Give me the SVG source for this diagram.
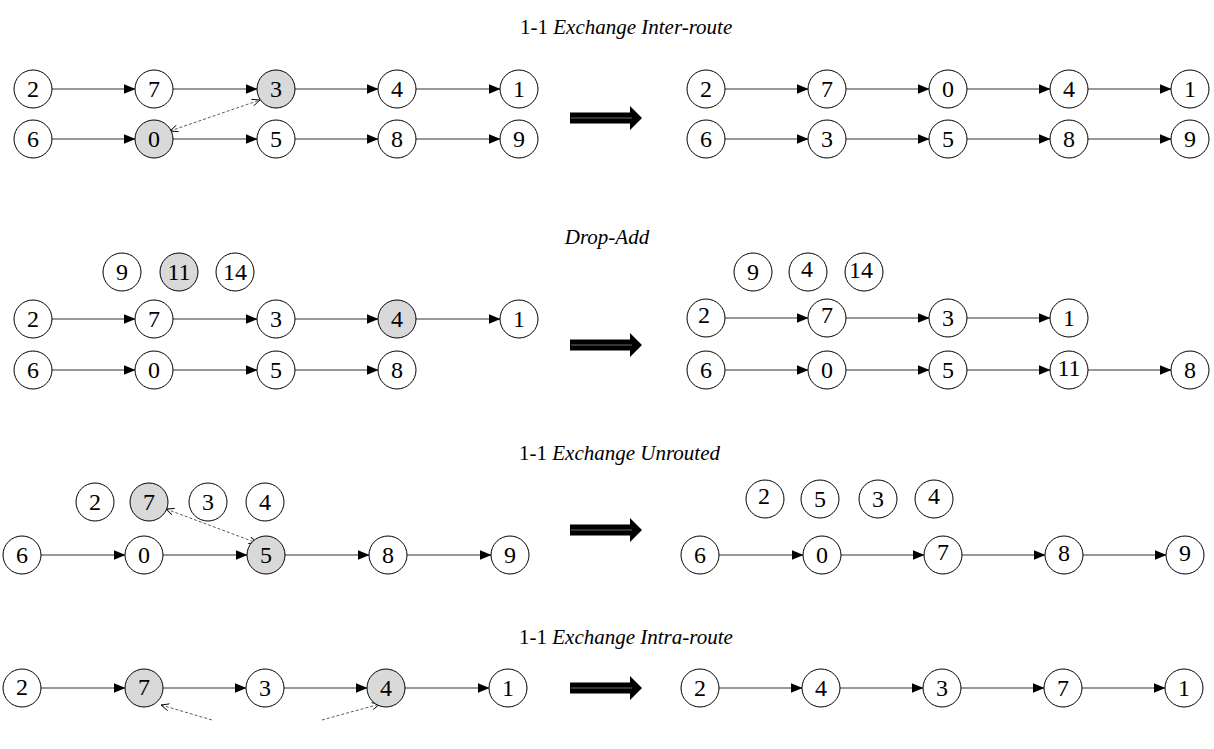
<svg xmlns="http://www.w3.org/2000/svg" xmlns:xlink="http://www.w3.org/1999/xlink" width="1214" height="749" viewBox="0 0 1214 749">
<style>
.n circle{fill:#fff;stroke:#000;stroke-width:1}
.n.g circle{fill:#d9d9d9}
.n text{font-family:"Liberation Serif",serif;font-size:24px;text-anchor:middle;fill:#000}
.title{font-family:"Liberation Serif",serif;font-size:21px;fill:#000}
.c line{stroke:#333;stroke-width:1;marker-end:url(#ah)}
.d{fill:none;stroke:#333;stroke-width:0.8;stroke-dasharray:3,2;marker-start:url(#oa);marker-end:url(#oa)}
</style>
<defs>
<marker id="ah" markerUnits="userSpaceOnUse" markerWidth="13" markerHeight="10" refX="12" refY="5" orient="auto"><path d="M0,0 L12,5 L0,10 Z" fill="#000"/></marker>
<marker id="oa" markerUnits="userSpaceOnUse" markerWidth="10" markerHeight="8" refX="8" refY="4" orient="auto-start-reverse"><path d="M0,0.5 L8,4 L0,7.5" fill="none" stroke="#000" stroke-width="0.9"/></marker>
<g id="big"><path d="M0,-5.5 H60 V-12 L72,0 L60,12 V5.5 H0 Z" fill="#000"/><line x1="1" y1="0" x2="62" y2="0" stroke="#fff" stroke-width="0.7" stroke-opacity="0.6"/></g>
</defs>

<text class="title" x="520" y="34">1-1 <tspan font-style="italic">Exchange Inter-route</tspan></text>
<text class="title" x="607" y="244" font-style="italic" text-anchor="middle">Drop-Add</text>
<text class="title" x="519" y="460">1-1 <tspan font-style="italic">Exchange Unrouted</tspan></text>
<text class="title" x="519" y="644">1-1 <tspan font-style="italic">Exchange Intra-route</tspan></text>

<g id="connectors">
<g class="c">
<line x1="51.5" y1="89" x2="135.5" y2="89"/><line x1="172.5" y1="89" x2="257.5" y2="89"/><line x1="294.5" y1="89" x2="378.5" y2="89"/><line x1="415.5" y1="89" x2="500.5" y2="89"/>
<line x1="51.5" y1="139" x2="135.5" y2="139"/><line x1="172.5" y1="139" x2="257.5" y2="139"/><line x1="294.5" y1="139" x2="378.5" y2="139"/><line x1="415.5" y1="139" x2="500.5" y2="139"/>
<line x1="724.5" y1="89" x2="808.5" y2="89"/><line x1="845.5" y1="89" x2="929.5" y2="89"/><line x1="966.5" y1="89" x2="1050.5" y2="89"/><line x1="1087.5" y1="89" x2="1171.5" y2="89"/>
<line x1="724.5" y1="139" x2="808.5" y2="139"/><line x1="845.5" y1="139" x2="929.5" y2="139"/><line x1="966.5" y1="139" x2="1050.5" y2="139"/><line x1="1087.5" y1="139" x2="1171.5" y2="139"/>

<line x1="51.5" y1="319" x2="135.5" y2="319"/><line x1="172.5" y1="319" x2="257.5" y2="319"/><line x1="294.5" y1="319" x2="378.5" y2="319"/><line x1="415.5" y1="319" x2="500.5" y2="319"/>
<line x1="51.5" y1="370" x2="135.5" y2="370"/><line x1="172.5" y1="370" x2="257.5" y2="370"/><line x1="294.5" y1="370" x2="378.5" y2="370"/>
<line x1="724.5" y1="318" x2="808.5" y2="318"/><line x1="845.5" y1="318" x2="929.5" y2="318"/><line x1="966.5" y1="318" x2="1050.5" y2="318"/>
<line x1="724.5" y1="370" x2="808.5" y2="370"/><line x1="845.5" y1="370" x2="929.5" y2="370"/><line x1="966.5" y1="370" x2="1050.5" y2="370"/><line x1="1087.5" y1="370" x2="1171.5" y2="370"/>

<line x1="40.5" y1="555" x2="125.5" y2="555"/><line x1="162.5" y1="555" x2="247.5" y2="555"/><line x1="284.5" y1="555" x2="369.5" y2="555"/><line x1="406.5" y1="555" x2="491.5" y2="555"/>
<line x1="718.5" y1="555" x2="803.5" y2="555"/><line x1="840.5" y1="555" x2="924.5" y2="555"/><line x1="961.5" y1="555" x2="1045.5" y2="555"/><line x1="1082.5" y1="555" x2="1166.5" y2="555"/>

<line x1="40.5" y1="688" x2="125.5" y2="688"/><line x1="162.5" y1="688" x2="246.5" y2="688"/><line x1="283.5" y1="688" x2="367.5" y2="688"/><line x1="404.5" y1="688" x2="489.5" y2="688"/>
<line x1="718.5" y1="688" x2="802.5" y2="688"/><line x1="839.5" y1="688" x2="923.5" y2="688"/><line x1="960.5" y1="688" x2="1044.5" y2="688"/><line x1="1081.5" y1="688" x2="1165.5" y2="688"/>
</g>
<path class="d" d="M170,131 L260,100"/>
<path class="d" d="M166,509 L257,543"/>
<path class="d" d="M161,705 L212,720 M322,720 L380,704"/>
<use xlink:href="#big" href="#big" x="570" y="118"/>
<use xlink:href="#big" href="#big" x="570" y="345"/>
<use xlink:href="#big" href="#big" x="570" y="530"/>
<use xlink:href="#big" href="#big" x="570" y="688"/>
</g>

<g id="s1L">
<g id="a1-2" class="n"><circle cx="33" cy="89" r="19"/><text x="33" y="97">2</text></g>
<g id="a1-7" class="n"><circle cx="154" cy="89" r="19"/><text x="154" y="97">7</text></g>
<g id="a1-3" class="n g"><circle cx="276" cy="89" r="19"/><text x="276" y="97">3</text></g>
<g id="a1-4" class="n"><circle cx="397" cy="89" r="19"/><text x="397" y="97">4</text></g>
<g id="a1-1" class="n"><circle cx="519" cy="89" r="19"/><text x="519" y="97">1</text></g>
<g id="a1-6" class="n"><circle cx="33" cy="139" r="19"/><text x="33" y="147">6</text></g>
<g id="a1-0" class="n g"><circle cx="154" cy="139" r="19"/><text x="154" y="147">0</text></g>
<g id="a1-5" class="n"><circle cx="276" cy="139" r="19"/><text x="276" y="147">5</text></g>
<g id="a1-8" class="n"><circle cx="397" cy="139" r="19"/><text x="397" y="147">8</text></g>
<g id="a1-9" class="n"><circle cx="519" cy="139" r="19"/><text x="519" y="147">9</text></g>
</g>
<g id="s1R">
<g id="b1-2" class="n"><circle cx="706" cy="89" r="19"/><text x="706" y="97">2</text></g>
<g id="b1-7" class="n"><circle cx="827" cy="89" r="19"/><text x="827" y="97">7</text></g>
<g id="b1-0" class="n"><circle cx="948" cy="89" r="19"/><text x="948" y="97">0</text></g>
<g id="b1-4" class="n"><circle cx="1069" cy="89" r="19"/><text x="1069" y="97">4</text></g>
<g id="b1-1" class="n"><circle cx="1190" cy="89" r="19"/><text x="1190" y="97">1</text></g>
<g id="b1-6" class="n"><circle cx="706" cy="139" r="19"/><text x="706" y="147">6</text></g>
<g id="b1-3" class="n"><circle cx="827" cy="139" r="19"/><text x="827" y="147">3</text></g>
<g id="b1-5" class="n"><circle cx="948" cy="139" r="19"/><text x="948" y="147">5</text></g>
<g id="b1-8" class="n"><circle cx="1069" cy="139" r="19"/><text x="1069" y="147">8</text></g>
<g id="b1-9" class="n"><circle cx="1190" cy="139" r="19"/><text x="1190" y="147">9</text></g>
</g>

<g id="s2L">
<g id="a2-9" class="n"><circle cx="122" cy="272" r="19"/><text x="122" y="280">9</text></g>
<g id="a2-11" class="n g"><circle cx="179" cy="272" r="19"/><text x="179" y="280">11</text></g>
<g id="a2-14" class="n"><circle cx="235" cy="272" r="19"/><text x="235" y="280">14</text></g>
<g id="a2-2" class="n"><circle cx="33" cy="319" r="19"/><text x="33" y="327">2</text></g>
<g id="a2-7" class="n"><circle cx="154" cy="319" r="19"/><text x="154" y="327">7</text></g>
<g id="a2-3" class="n"><circle cx="276" cy="319" r="19"/><text x="276" y="327">3</text></g>
<g id="a2-4" class="n g"><circle cx="397" cy="319" r="19"/><text x="397" y="327">4</text></g>
<g id="a2-1" class="n"><circle cx="519" cy="319" r="19"/><text x="519" y="327">1</text></g>
<g id="a2-6" class="n"><circle cx="33" cy="370" r="19"/><text x="33" y="378">6</text></g>
<g id="a2-0" class="n"><circle cx="154" cy="370" r="19"/><text x="154" y="378">0</text></g>
<g id="a2-5" class="n"><circle cx="276" cy="370" r="19"/><text x="276" y="378">5</text></g>
<g id="a2-8" class="n"><circle cx="397" cy="370" r="19"/><text x="397" y="378">8</text></g>
</g>
<g id="s2R">
<g id="b2-9" class="n"><circle cx="753" cy="272" r="19"/><text x="753" y="280">9</text></g>
<g id="b2-4" class="n"><circle cx="808" cy="272" r="19"/><text x="807" y="277">4</text></g>
<g id="b2-14" class="n"><circle cx="864" cy="272" r="19"/><text x="861" y="278">14</text></g>
<g id="b2-2" class="n"><circle cx="706" cy="318" r="19"/><text x="704" y="323">2</text></g>
<g id="b2-7" class="n"><circle cx="827" cy="318" r="19"/><text x="827" y="323">7</text></g>
<g id="b2-3" class="n"><circle cx="948" cy="318" r="19"/><text x="948" y="326">3</text></g>
<g id="b2-1" class="n"><circle cx="1069" cy="318" r="19"/><text x="1069" y="326">1</text></g>
<g id="b2-6" class="n"><circle cx="706" cy="370" r="19"/><text x="706" y="378">6</text></g>
<g id="b2-0" class="n"><circle cx="827" cy="370" r="19"/><text x="827" y="378">0</text></g>
<g id="b2-5" class="n"><circle cx="948" cy="370" r="19"/><text x="948" y="378">5</text></g>
<g id="b2-11" class="n"><circle cx="1069" cy="370" r="19"/><text x="1069" y="376">11</text></g>
<g id="b2-8" class="n"><circle cx="1190" cy="370" r="19"/><text x="1190" y="378">8</text></g>
</g>

<g id="s3L">
<g id="a3-2" class="n"><circle cx="95" cy="502" r="19"/><text x="95" y="510">2</text></g>
<g id="a3-7" class="n g"><circle cx="149" cy="502" r="19"/><text x="149" y="510">7</text></g>
<g id="a3-3" class="n"><circle cx="208" cy="502" r="19"/><text x="208" y="510">3</text></g>
<g id="a3-4" class="n"><circle cx="265" cy="502" r="19"/><text x="265" y="510">4</text></g>
<g id="a3-6" class="n"><circle cx="22" cy="555" r="19"/><text x="22" y="563">6</text></g>
<g id="a3-0" class="n"><circle cx="144" cy="555" r="19"/><text x="144" y="563">0</text></g>
<g id="a3-5" class="n g"><circle cx="266" cy="555" r="19"/><text x="266" y="563">5</text></g>
<g id="a3-8" class="n"><circle cx="388" cy="555" r="19"/><text x="388" y="563">8</text></g>
<g id="a3-9" class="n"><circle cx="510" cy="555" r="19"/><text x="510" y="563">9</text></g>
</g>
<g id="s3R">
<g id="b3-2" class="n"><circle cx="765" cy="499" r="19"/><text x="764" y="504">2</text></g>
<g id="b3-5" class="n"><circle cx="820" cy="499" r="19"/><text x="820" y="507">5</text></g>
<g id="b3-3" class="n"><circle cx="878" cy="499" r="19"/><text x="878" y="507">3</text></g>
<g id="b3-4" class="n"><circle cx="934" cy="499" r="19"/><text x="934" y="504">4</text></g>
<g id="b3-6" class="n"><circle cx="700" cy="555" r="19"/><text x="700" y="563">6</text></g>
<g id="b3-0" class="n"><circle cx="822" cy="555" r="19"/><text x="822" y="563">0</text></g>
<g id="b3-7" class="n"><circle cx="943" cy="555" r="19"/><text x="943" y="560">7</text></g>
<g id="b3-8" class="n"><circle cx="1064" cy="555" r="19"/><text x="1064" y="561">8</text></g>
<g id="b3-9" class="n"><circle cx="1185" cy="555" r="19"/><text x="1185" y="561">9</text></g>
</g>

<g id="s4L">
<g id="a4-2" class="n"><circle cx="22" cy="688" r="19"/><text x="22" y="695">2</text></g>
<g id="a4-7" class="n g"><circle cx="144" cy="688" r="19"/><text x="144" y="695">7</text></g>
<g id="a4-3" class="n"><circle cx="265" cy="688" r="19"/><text x="265" y="696">3</text></g>
<g id="a4-4" class="n g"><circle cx="386" cy="688" r="19"/><text x="386" y="696">4</text></g>
<g id="a4-1" class="n"><circle cx="508" cy="688" r="19"/><text x="508" y="696">1</text></g>
</g>
<g id="s4R">
<g id="b4-2" class="n"><circle cx="700" cy="688" r="19"/><text x="700" y="696">2</text></g>
<g id="b4-4" class="n"><circle cx="821" cy="688" r="19"/><text x="821" y="696">4</text></g>
<g id="b4-3" class="n"><circle cx="942" cy="688" r="19"/><text x="942" y="696">3</text></g>
<g id="b4-7" class="n"><circle cx="1063" cy="688" r="19"/><text x="1063" y="696">7</text></g>
<g id="b4-1" class="n"><circle cx="1184" cy="688" r="19"/><text x="1184" y="696">1</text></g>
</g>
</svg>
